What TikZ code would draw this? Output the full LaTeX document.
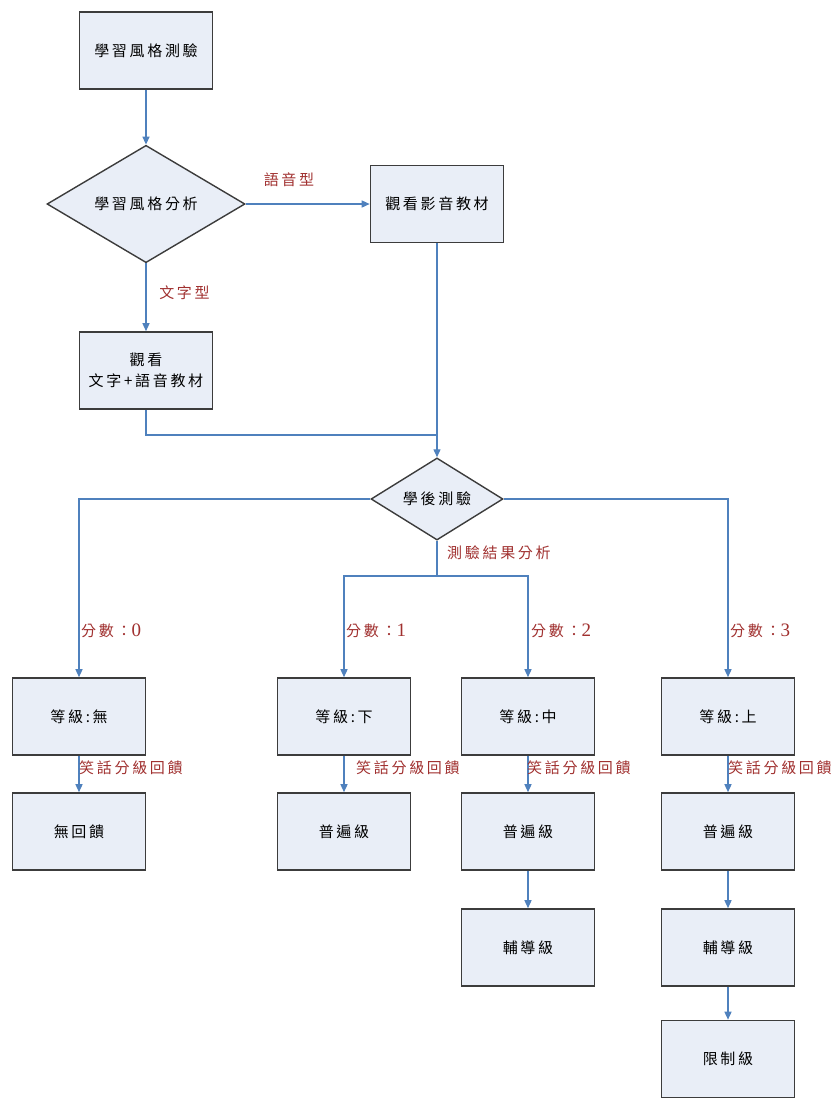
\documentclass[tikz,border=0pt]{standalone}
\usepackage{fontspec}
\usetikzlibrary{shapes.geometric,arrows.meta}
\newfontfamily\cjk{Noto Sans CJK TC}[LetterSpace=18]
\newfontfamily\dig{Liberation Serif}
\newcommand{\fs}{\cjk\fontsize{15pt}{21pt}\selectfont}
\newcommand{\dg}[1]{{\dig\fontsize{19pt}{19pt}\selectfont #1}}
\definecolor{boxfill}{RGB}{233,238,247}
\definecolor{boxdraw}{RGB}{60,60,60}
\definecolor{lineblue}{RGB}{79,129,189}
\definecolor{labelred}{RGB}{160,48,47}
\tikzset{
  box/.style={draw=boxdraw, line width=1.6pt, fill=boxfill, minimum width=133pt, minimum height=77pt, inner sep=0pt, font=\fs, align=center},
  dia/.style={diamond, draw=boxdraw, line width=1.4pt, fill=boxfill, inner sep=0pt, font=\fs},
  conn/.style={draw=lineblue, line width=1.4pt},
  arr/.style={conn, -{Triangle[length=8pt,width=7pt]}},
  lbl/.style={text=labelred, font=\fs, inner sep=0pt}
}
\begin{document}
\begin{tikzpicture}[x=1pt,y=-1pt]
\useasboundingbox (0,0) rectangle (835,1098);
% nodes
\node[box] (b1) at (146,50.5) {學習風格測驗};
\node[dia, minimum width=198pt, minimum height=114pt] (d1) at (146,204) {學習風格分析};
\node[box] (b2) at (437,204) {觀看影音教材};
\node[box] (b3) at (146,370.5) {觀看\\文字+語音教材};
\node[dia, minimum width=132pt, minimum height=76pt] (d2) at (437,499) {學後測驗};
% row 1
\node[box] (r1a) at (79,716.5) {等級:無};
\node[box] (r1b) at (344,716.5) {等級:下};
\node[box] (r1c) at (528,716.5) {等級:中};
\node[box] (r1d) at (728,716.5) {等級:上};
% row 2
\node[box] (r2a) at (79,831.5) {無回饋};
\node[box] (r2b) at (344,831.5) {普遍級};
\node[box] (r2c) at (528,831.5) {普遍級};
\node[box] (r2d) at (728,831.5) {普遍級};
% row 3
\node[box] (r3c) at (528,947.5) {輔導級};
\node[box] (r3d) at (728,947.5) {輔導級};
% row 4
\node[box] (r4d) at (728,1059) {限制級};
% coordinates
\coordinate (j) at (437,435);
\coordinate (s) at (437,576);
% connectors
\draw[arr] (b1) -- (d1);
\draw[arr] (d1) -- (b2);
\draw[arr] (d1) -- (b3);
\draw[conn] (b3.south) |- (j);
\draw[arr] (b2) -- (d2);
\draw[arr] (d2.west) -| (r1a.north);
\draw[arr] (d2.east) -| (r1d.north);
\draw[conn] (d2.south) -- (s);
\draw[arr] (s) -| (r1b.north);
\draw[arr] (s) -| (r1c.north);
\draw[arr] (r1a) -- (r2a);
\draw[arr] (r1b) -- (r2b);
\draw[arr] (r1c) -- (r2c);
\draw[arr] (r1d) -- (r2d);
\draw[arr] (r2c) -- (r3c);
\draw[arr] (r2d) -- (r3d);
\draw[arr] (r3d) -- (r4d);
% labels
\node[lbl] (l1) at (289,180) {語音型};
\node[lbl] (l2) at (184.5,293) {文字型};
\node[lbl, anchor=west] (l3) at (447,553) {測驗結果分析};
\node[lbl, anchor=west] (s0) at (81,631) {分數：\dg{0}};
\node[lbl, anchor=west] (s1) at (346,631) {分數：\dg{1}};
\node[lbl, anchor=west] (s2) at (531,631) {分數：\dg{2}};
\node[lbl, anchor=west] (s3) at (730,631) {分數：\dg{3}};
\node[lbl, anchor=west] (f0) at (79,768) {笑話分級回饋};
\node[lbl, anchor=west] (f1) at (356,768) {笑話分級回饋};
\node[lbl, anchor=west] (f2) at (527,768) {笑話分級回饋};
\node[lbl, anchor=west] (f3) at (728,768) {笑話分級回饋};
\end{tikzpicture}
\end{document}
